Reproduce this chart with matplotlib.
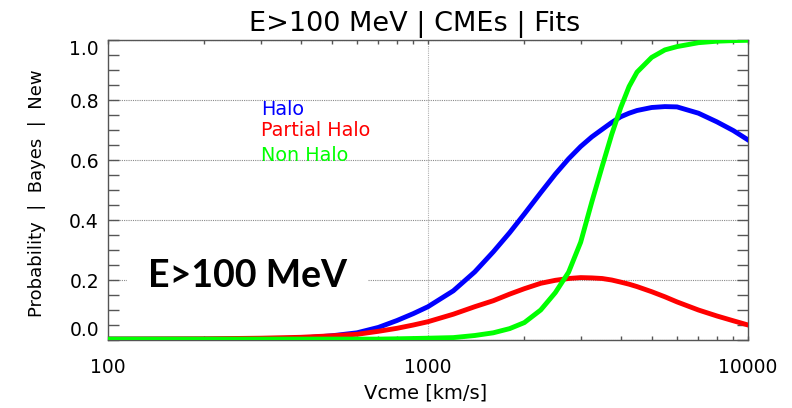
import numpy as np
import matplotlib
matplotlib.use('agg')
from matplotlib import pyplot as plt
from matplotlib.ticker import FixedLocator, NullFormatter

# speeds [km/s] at which the fitted curves were read
vcme = [100, 200, 300, 400, 500, 600, 700, 800, 900, 1000, 1200, 1400, 1600,
        1800, 2000, 2250, 2500, 2750, 3000, 3250, 3500, 3750, 4000, 4250,
        4500, 5000, 5500, 6000, 7000, 8000, 9000, 10000]

halo = [0.003, 0.003, 0.004, 0.006, 0.014, 0.024, 0.042, 0.065, 0.088, 0.111,
        0.164, 0.227, 0.294, 0.358, 0.420, 0.491, 0.553, 0.604, 0.645, 0.677,
        0.702, 0.725, 0.744, 0.756, 0.765, 0.775, 0.778, 0.777, 0.756, 0.727,
        0.698, 0.667]

partial_halo = [0.003, 0.004, 0.006, 0.009, 0.014, 0.019, 0.029, 0.039, 0.050,
                0.061, 0.086, 0.111, 0.131, 0.153, 0.171, 0.189, 0.199, 0.205,
                0.208, 0.207, 0.205, 0.200, 0.193, 0.186, 0.178, 0.161, 0.144,
                0.127, 0.100, 0.080, 0.064, 0.050]

non_halo = [0.003, 0.003, 0.003, 0.003, 0.003, 0.003, 0.003, 0.004, 0.005,
            0.006, 0.008, 0.015, 0.024, 0.038, 0.058, 0.100, 0.158, 0.226,
            0.326, 0.460, 0.578, 0.685, 0.774, 0.845, 0.893, 0.942, 0.967,
            0.978, 0.991, 0.996, 0.998, 0.999]

series_names = ['Halo', 'Partial Halo', 'Non Halo']
series_colors = ['#0000ff', '#ff0000', '#00ff00']

plt.rcParams['font.family'] = ['DejaVu Sans']

fig = plt.figure(figsize=(7.92, 4.08), dpi=100)
ax = fig.add_axes([108/792., 68/408., 640/792., 300/408.])

ax.plot(vcme, halo, color=series_colors[0], lw=3.5, zorder=3,
        solid_joinstyle='round')
ax.plot(vcme, partial_halo, color=series_colors[1], lw=3.5, zorder=3,
        solid_joinstyle='round')
ax.plot(vcme, non_halo, color=series_colors[2], lw=3.5, zorder=4,
        solid_joinstyle='round')

ax.set_xscale('log')
ax.set_xlim(100, 10000)
ax.set_ylim(0, 1.0)

# ticks (inward, on all sides, like the IDL plot)
ax.set_yticks([0.0, 0.2, 0.4, 0.6, 0.8, 1.0])
ax.set_yticklabels(['0.0', '0.2', '0.4', '0.6', '0.8', '1.0'])
ax.yaxis.set_minor_locator(FixedLocator(np.arange(0.05, 1.0, 0.05)))
ax.set_xticks([100, 1000, 10000])
ax.set_xticklabels(['100', '1000', '10000'])
ax.xaxis.set_minor_locator(FixedLocator([m * d for d in (100, 1000) for m in range(2, 10)]))
ax.xaxis.set_minor_formatter(NullFormatter())

ax.tick_params(axis='y', which='both', direction='in', left=True, right=True,
               length=8, width=1, color='#555555', labelsize=13.5, pad=6.5)
ax.tick_params(axis='x', which='both', direction='in', top=True, bottom=True,
               length=3, width=1, color='#555555', labelsize=13.5, pad=13)

ticks = ax.yaxis.get_major_ticks()
ticks[0].label1.set_va('bottom')
ticks[-1].label1.set_va('top')

for s in ax.spines.values():
    s.set_color('#555555')
    s.set_linewidth(1.0)

# dotted grid: horizontal at the major y ticks, vertical only at 1000
ax.set_axisbelow(True)
ax.grid(True, axis='y', which='major', color='#8a8a8a', lw=0.8, ls=(0, (1, 1)))
ax.axvline(1000, color='#b0b0b0', lw=0.8, ls=(0, (1, 1)), zorder=0.5)

ax.set_xlabel('Vcme [km/s]', fontsize=14, va='center')
ax.xaxis.set_label_coords(0.496, -0.177)
ax.set_ylabel('Probability  |  Bayes  |  New', fontsize=13, va='center')
ax.yaxis.set_label_coords(-0.111, 0.49)

fig.text(415/792., 1 - 31.5/408., 'E>100 MeV | CMEs | Fits', fontsize=19.5,
         ha='center', va='baseline')

# labels of the curves
for name, col, yy in zip(series_names, series_colors, [0.75, 0.68, 0.597]):
    ax.text(0.239, yy, name, color=col, fontsize=13.8, transform=ax.transAxes,
            ha='left', va='baseline')

ax.text((247.5 - 108) / 640., (340 - 287) / 300., 'E>100 MeV', family=['Lato', 'DejaVu Sans'],
        fontweight='bold', fontsize=27, transform=ax.transAxes, ha='center',
        va='baseline', zorder=2,
        bbox=dict(boxstyle='square,pad=0.55', fc='white', ec='none'))

fig.savefig('out.png', dpi=100)
